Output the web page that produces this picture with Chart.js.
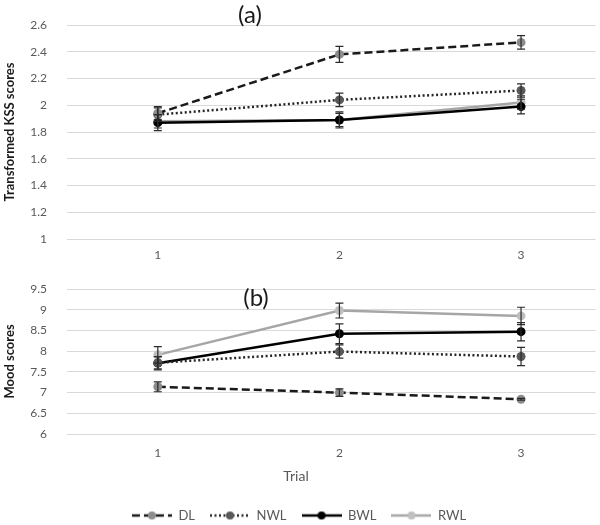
<!DOCTYPE html>
<html>
<head>
<meta charset="utf-8">
<script src="https://cdn.jsdelivr.net/npm/chart.js@4"></script>
<style>
	html, body { margin: 0; padding: 0; background: #fff; overflow: hidden; }
	#wrap-a { position: absolute; left: 0; top: 0; width: 600px; height: 262px; }
	#wrap-b { position: absolute; left: 0; top: 262px; width: 600px; height: 263px; }
</style>
</head>
<body>
<div id="wrap-a"><canvas id="chart-a"></canvas></div>
<div id="wrap-b"><canvas id="chart-b"></canvas></div>
<script>
var trials = [1, 2, 3];
var groups = ['DL', 'NWL', 'BWL', 'RWL'];

// (a) transformed KSS scores, mean and error
var kssDL = [1.94, 2.38, 2.47];
var kssNWL = [1.93, 2.04, 2.11];
var kssBWL = [1.87, 1.89, 1.99];
var kssRWL = [1.88, 1.89, 2.02];
var kssErrDL = [0.05, 0.06, 0.05];
var kssErrNWL = [0.05, 0.05, 0.05];
var kssErrBWL = [0.06, 0.06, 0.055];
var kssErrRWL = [0.05, 0.05, 0.05];

// (b) mood scores, mean and error
var moodDL = [7.14, 7.0, 6.84];
var moodNWL = [7.72, 7.99, 7.87];
var moodBWL = [7.71, 8.42, 8.47];
var moodRWL = [7.91, 8.98, 8.85];
var moodErrDL = [0.12, 0.09, 0.02];
var moodErrNWL = [0.15, 0.16, 0.22];
var moodErrBWL = [0.16, 0.24, 0.22];
var moodErrRWL = [0.2, 0.18, 0.21];

var kssTicks = [1, 1.2, 1.4, 1.6, 1.8, 2, 2.2, 2.4, 2.6];
var moodTicks = [6, 6.5, 7, 7.5, 8, 8.5, 9, 9.5];

var lineColors = ['#1a1a1a', '#262626', '#000000', '#a6a6a6'];
var markerColors = ['#8c8c8c', '#595959', '#000000', '#bfbfbf'];
var lineDashes = [[8, 4], [2, 2.5], [], []];

var fontFam = 'Lato, "Open Sans", sans-serif';

function build_datasets(values, errors) {
	var sets = [];
	for (var i = 0; i < groups.length; i++) {
		sets.push({
			label: groups[i],
			data: trials.map(function(t, j) { return {x: t, y: values[i][j]}; }),
			errors: errors[i],
			borderColor: lineColors[i],
			borderWidth: 2.5,
			borderDash: lineDashes[i],
			backgroundColor: markerColors[i],
			pointBackgroundColor: markerColors[i],
			pointBorderColor: markerColors[i],
			pointRadius: 4.5,
			pointBorderWidth: 0,
			tension: 0,
			fill: false
		});
	}
	return sets;
}

// error bars drawn through the chart scales
var errorBars = {
	id: 'errorBars',
	afterDatasetsDraw: function(chart) {
		var ctx = chart.ctx;
		var xs = chart.scales.x, ys = chart.scales.y;
		ctx.save();
		ctx.strokeStyle = '#2b2b2b';
		ctx.lineWidth = 1.2;
		ctx.setLineDash([]);
		chart.data.datasets.forEach(function(ds) {
			ds.data.forEach(function(p, j) {
				var e = ds.errors[j];
				var x = xs.getPixelForValue(p.x);
				var y1 = ys.getPixelForValue(p.y + e);
				var y2 = ys.getPixelForValue(p.y - e);
				ctx.beginPath();
				ctx.moveTo(x, y1); ctx.lineTo(x, y2);
				ctx.moveTo(x - 4, y1); ctx.lineTo(x + 4, y1);
				ctx.moveTo(x - 4, y2); ctx.lineTo(x + 4, y2);
				ctx.stroke();
			});
		});
		ctx.restore();
	}
};

// free text labels: panel letters and the x axis title
var freeText = {
	id: 'freeText',
	afterDraw: function(chart, args, opts) {
		var ctx = chart.ctx;
		ctx.save();
		(opts.items || []).forEach(function(it) {
			ctx.font = it.font;
			ctx.fillStyle = it.color;
			ctx.textAlign = 'center';
			ctx.textBaseline = 'middle';
			ctx.fillText(it.text, it.x, it.y);
		});
		ctx.restore();
	}
};

function legend_icon(i) {
	var c = document.createElement('canvas');
	c.width = 40; c.height = 12;
	var g = c.getContext('2d');
	g.strokeStyle = lineColors[i];
	g.lineWidth = 2.5;
	g.setLineDash(lineDashes[i]);
	g.beginPath(); g.moveTo(0, 6); g.lineTo(40, 6); g.stroke();
	g.setLineDash([]);
	g.fillStyle = markerColors[i];
	g.beginPath(); g.arc(20, 6, 4, 0, Math.PI * 2); g.fill();
	return c;
}
var legendIcons = groups.map(function(g, i) { return legend_icon(i); });

function make_options(yTicks, yTitle, padTop, padBottom, xHeight, xPad, showLegend, items) {
	return {
		responsive: true,
		maintainAspectRatio: false,
		animation: false,
		layout: { padding: { top: padTop, right: 2, left: 0, bottom: padBottom } },
		scales: {
			x: {
				type: 'linear',
				min: 0.5,
				max: 3.41,
				afterBuildTicks: function(scale) {
					scale.ticks = trials.map(function(t) { return {value: t}; });
				},
				afterFit: function(scale) { scale.height = xHeight; },
				grid: { display: false, drawTicks: false },
				border: { display: false },
				ticks: {
					padding: xPad,
					color: '#595959',
					font: { family: fontFam, size: 12 },
					callback: function(v) { return String(v); }
				}
			},
			y: {
				min: yTicks[0],
				max: yTicks[yTicks.length - 1],
				afterBuildTicks: function(scale) {
					scale.ticks = yTicks.map(function(t) { return {value: t}; });
				},
				afterFit: function(scale) { scale.width = 67; },
				grid: { color: '#d9d9d9', lineWidth: 1, drawTicks: true, tickLength: 17, tickColor: 'rgba(0,0,0,0)' },
				border: { display: false },
				ticks: {
					padding: 3,
					color: '#595959',
					font: { family: fontFam, size: 12 },
					callback: function(v) { return String(+v.toFixed(1)); }
				},
				title: {
					display: true,
					text: yTitle,
					color: '#1a1a1a',
					padding: { top: 2, bottom: 2 },
					font: { family: fontFam, size: 13, weight: 'bold' }
				}
			}
		},
		plugins: {
			legend: {
				display: showLegend,
				position: 'bottom',
				labels: {
					usePointStyle: true,
					pointStyleWidth: 40,
					boxHeight: 12,
					padding: 15,
					color: '#595959',
					font: { family: fontFam, size: 13 },
					generateLabels: function(chart) {
						return chart.data.datasets.map(function(ds, i) {
							return {
								text: ds.label,
								pointStyle: legendIcons[i],
								fillStyle: 'transparent',
								strokeStyle: 'transparent',
								lineWidth: 0,
								fontColor: '#595959',
								hidden: false,
								datasetIndex: i
							};
						});
					}
				}
			},
			tooltip: { enabled: false },
			freeText: { items: items }
		}
	};
}

new Chart(document.getElementById('chart-a'), {
	type: 'line',
	data: { datasets: build_datasets([kssDL, kssNWL, kssBWL, kssRWL], [kssErrDL, kssErrNWL, kssErrBWL, kssErrRWL]) },
	options: make_options(kssTicks, 'Transformed KSS scores', 25, 0, 23, 9, false, [
		{ text: '(a)', x: 250, y: 15, font: '24px ' + fontFam, color: '#1a1a1a' }
	]),
	plugins: [errorBars, freeText]
});

new Chart(document.getElementById('chart-b'), {
	type: 'line',
	data: { datasets: build_datasets([moodDL, moodNWL, moodBWL, moodRWL], [moodErrDL, moodErrNWL, moodErrBWL, moodErrRWL]) },
	options: make_options(moodTicks, 'Mood scores', 27, -7, 60, 12, true, [
		{ text: '(b)', x: 256, y: 36, font: '24px ' + fontFam, color: '#1a1a1a' },
		{ text: 'Trial', x: 296, y: 214, font: '14px ' + fontFam, color: '#595959' }
	]),
	plugins: [errorBars, freeText]
});
</script>
</body>
</html>
